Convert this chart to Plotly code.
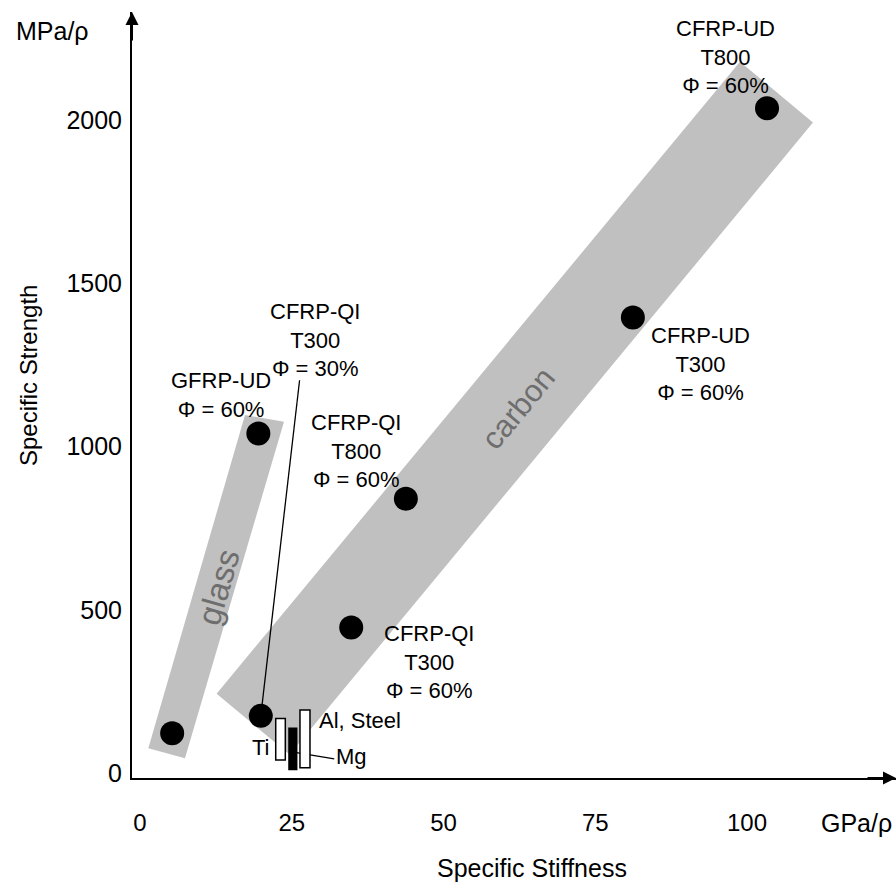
import plotly.graph_objects as go

# ---------------- data ----------------
materials = ["GFRP-QI<br>Φ = 30%", "GFRP-UD<br>Φ = 60%", "CFRP-QI<br>T300<br>Φ = 30%",
             "CFRP-QI<br>T300<br>Φ = 60%", "CFRP-QI<br>T800<br>Φ = 60%",
             "CFRP-UD<br>T300<br>Φ = 60%", "CFRP-UD<br>T800<br>Φ = 60%"]
specific_stiffness = [5.3, 19.5, 19.9, 34.8, 43.8, 81.2, 103.3]
specific_strength = [122, 1040, 175, 446, 840, 1395, 2036]

metals = ["Ti", "Mg", "Al, Steel"]
metal_stiffness = [23.15, 25.18, 27.18]
metal_strength_low = [40, 11, 16]
metal_strength_high = [167, 137, 193]

x_ticks = [0, 25, 50, 75, 100]
y_ticks = [0, 500, 1000, 1500, 2000]

# ---------------- layout helpers ----------------
XR = [-1.318, 124.55]
YR = [-15.3, 2330.8]
FONT = "Liberation Sans, Arial, sans-serif"
GRAY = "#c0c0c0"

fig = go.Figure()

# bands (glass, carbon)
glass_band = "M 1.37 75.7 L 17.30 1096.5 L 23.72 1076 L 7.41 45 Z"
carbon_band = "M 12.62 242.9 L 98.85 2178.6 L 110.87 1992 L 24.65 56.4 Z"
for p in (glass_band, carbon_band):
    fig.add_shape(type="path", path=p, xref="x", yref="y", fillcolor=GRAY,
                  line=dict(width=0), layer="below")

# leader lines
fig.add_shape(type="line", xref="x", yref="y", x0=26.29, y0=1203, x1=specific_stiffness[2],
              y1=specific_strength[2], line=dict(color="black", width=1.3), layer="below")
fig.add_shape(type="line", xref="x", yref="y", x0=metal_stiffness[1] + 0.1, y0=64,
              x1=32.0, y1=43, line=dict(color="black", width=1.3), layer="below")

# metal bars
metal_fill = ["white", "black", "white"]
metal_width = [1.58, 1.27, 1.65]
for i, m in enumerate(metals):
    fig.add_trace(go.Bar(x=[metal_stiffness[i]],
                         y=[metal_strength_high[i] - metal_strength_low[i]],
                         base=[metal_strength_low[i]], width=metal_width[i],
                         marker=dict(color=metal_fill[i], line=dict(color="black", width=1.5)),
                         name=m, hoverinfo="skip"))

# material points
fig.add_trace(go.Scatter(x=specific_stiffness, y=specific_strength, mode="markers",
                         marker=dict(size=24, color="black"), text=materials,
                         hoverinfo="text"))

# material labels (center positions of text blocks)
label_pos = [(-5.1, 176), (13.34, 1159), (28.83, 1324.7), (47.6, 341.5),
             (35.54, 986), (92.26, 1254), (96.54, 2193)]
for i, (lx, ly) in enumerate(label_pos):
    fig.add_annotation(x=lx, y=ly, xref="x", yref="y", text=materials[i], showarrow=False,
                       font=dict(family=FONT, size=22, color="black"),
                       xanchor="center", yanchor="middle",
                       bgcolor="white" if i == 0 else "rgba(0,0,0,0)")

# metal labels
fig.add_annotation(x=19.93, y=76.6, text="Ti", showarrow=False, xanchor="center",
                   yanchor="middle", font=dict(family=FONT, size=22, color="black"))
fig.add_annotation(x=29.1, y=162.3, text="Al, Steel", showarrow=False, xanchor="left",
                   yanchor="middle", font=dict(family=FONT, size=22, color="black"))
fig.add_annotation(x=31.9, y=50, text="Mg", showarrow=False, xanchor="left",
                   yanchor="middle", font=dict(family=FONT, size=22, color="black"))

# band names
fig.add_annotation(x=13.0, y=570, text="glass", showarrow=False, textangle=-73.8,
                   font=dict(family=FONT, size=33, color="#6e6e6e"))
fig.add_annotation(x=62.3, y=1116, text="carbon", showarrow=False, textangle=-50.4,
                   font=dict(family=FONT, size=31, color="#6e6e6e"))

# axis arrows
fig.add_annotation(x=XR[0], y=YR[1], xref="x", yref="y", ax=0, ay=30, text="",
                   showarrow=True, arrowhead=2, arrowsize=1.3, arrowwidth=2, arrowcolor="black")
fig.add_annotation(x=XR[1], y=YR[0], xref="x", yref="y", ax=-30, ay=0, text="",
                   showarrow=True, arrowhead=2, arrowsize=1.3, arrowwidth=2, arrowcolor="black")

# units and axis titles
fig.add_annotation(x=52.5 / 896, y=1 - 31 / 883, xref="paper", yref="paper", text="MPa/ρ",
                   showarrow=False, font=dict(family=FONT, size=25, color="black"),
                   xanchor="center", yanchor="middle")
fig.add_annotation(x=856.5 / 896, y=1 - 823 / 883, xref="paper", yref="paper", text="GPa/ρ",
                   showarrow=False, font=dict(family=FONT, size=25, color="black"),
                   xanchor="center", yanchor="middle")
fig.add_annotation(x=532 / 896, y=1 - 868 / 883, xref="paper", yref="paper",
                   text="Specific Stiffness", showarrow=False,
                   font=dict(family=FONT, size=25, color="black"),
                   xanchor="center", yanchor="middle")
fig.add_annotation(x=28 / 896, y=1 - 376 / 883, xref="paper", yref="paper",
                   text="Specific Strength", showarrow=False, textangle=-90,
                   font=dict(family=FONT, size=24, color="black"),
                   xanchor="center", yanchor="middle")

# the paper-ref annotations above use full-figure fractions; convert to plot-area paper
L, R, T, B = 132, 0, 12, 105
W, H = 896, 883
for a in fig.layout.annotations:
    if a.xref == "paper":
        px = a.x * W
        py = (1 - a.y) * H
        a.x = (px - L) / (W - L - R)
        a.y = ((H - B) - py) / (H - T - B)

fig.update_layout(
    width=W, height=H, margin=dict(l=L, r=R, t=T, b=B),
    plot_bgcolor="white", paper_bgcolor="white", showlegend=False, barmode="overlay",
    font=dict(family=FONT, color="black"),
    xaxis=dict(range=XR, showgrid=False, zeroline=False, showline=True, linecolor="black",
               linewidth=2, tickvals=x_ticks, ticktext=[str(v) for v in x_ticks], ticks="",
               tickfont=dict(family=FONT, size=24, color="black"), ticklabelstandoff=22),
    yaxis=dict(range=YR, showgrid=False, zeroline=False, showline=True, linecolor="black",
               linewidth=2, tickvals=y_ticks, ticktext=[str(v) for v in y_ticks], ticks="",
               tickfont=dict(family=FONT, size=25, color="black"), ticklabelstandoff=3),
)

fig.write_html("out.html", config={"displayModeBar": False},
               post_script="document.body.style.margin='0px';document.body.style.overflow='hidden';")
